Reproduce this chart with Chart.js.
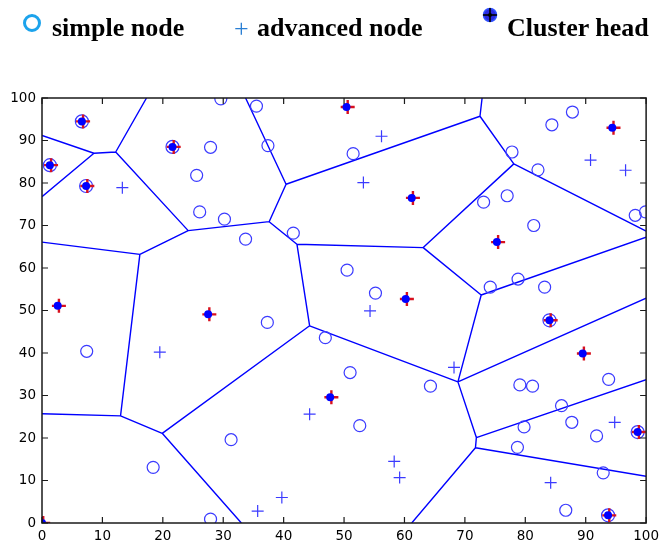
<!DOCTYPE html>
<html>
<head>
<meta charset="utf-8">
<script src="https://cdn.jsdelivr.net/npm/chart.js@4.4.1/dist/chart.umd.min.js"></script>
<style>
  html, body { margin: 0; padding: 0; background: #fff; }
  #wrap { position: relative; width: 664px; height: 546px; }
  #chart { position: absolute; left: 0; top: 0; }
  .lg { position: absolute; font-family: "Liberation Serif", "Times New Roman", serif; font-weight: bold; font-size: 26px; line-height: 26px; color: #000; white-space: nowrap; }
  #ring { position: absolute; left: 23px; top: 14px; width: 12px; height: 12px; border: 3px solid #1ca3ec; border-radius: 50%; }
  #plus { position: absolute; left: 234px; top: 16px; font-family: "Liberation Serif", serif; font-size: 26px; line-height: 26px; color: #2a7fd4; }
</style>
</head>
<body>
<div id="wrap">
  <canvas id="chart" width="664" height="546"></canvas>
  <div id="ring"></div>
  <div class="lg" style="left:52px; top:15px;">simple node</div>
  <div id="plus">+</div>
  <div class="lg" style="left:257px; top:15px;">advanced node</div>
  <svg style="position:absolute; left:482px; top:7px;" width="16" height="16" viewBox="0 0 16 16">
    <circle cx="8" cy="8" r="6.5" fill="#2a2ae0" stroke="#3050ff" stroke-width="1.5"/>
    <line x1="8" y1="1" x2="8" y2="15" stroke="#000" stroke-width="1.6"/>
    <line x1="1" y1="8" x2="15" y2="8" stroke="#000" stroke-width="1.6"/>
    <circle cx="8" cy="8" r="2" fill="#000"/>
  </svg>
  <div class="lg" style="left:507px; top:15px;">Cluster head</div>
</div>
<script>
// ---------- data ----------
const headX = [0, 6.6, 1.3, 7.3, 21.6, 50.4, 61.2, 75.3, 94.4, 2.6, 27.5, 60.2, 84.0, 89.5, 47.7, 98.6, 93.7];
const headY = [0, 94.5, 84.2, 79.3, 88.5, 97.9, 76.5, 66.1, 93.0, 51.1, 49.1, 52.7, 47.7, 39.9, 29.6, 21.4, 1.8];
// cluster heads drawn with an extra ring
const ringX = [6.6, 1.3, 7.3, 21.6, 84.0, 93.7, 98.6];
const ringY = [94.5, 84.2, 79.3, 88.5, 47.7, 1.8, 21.4];

const simpleX = [29.6, 27.9, 25.6, 26.1, 30.2, 35.5, 37.4, 51.5, 33.7, 41.6, 87.8, 84.4, 77.8, 82.1, 73.1, 77.0,
  81.4, 98.2, 99.9, 50.5, 55.2, 37.3, 46.9, 74.2, 78.8, 83.2, 7.4, 51.0, 64.3, 79.1, 81.2, 93.8, 86.0, 87.7,
  79.8, 91.8, 78.7, 92.9, 86.7, 31.3, 52.6, 18.4, 27.9];
const simpleY = [99.8, 88.4, 81.8, 73.2, 71.5, 98.1, 88.8, 86.9, 66.8, 68.2, 96.7, 93.7, 87.3, 83.1, 75.5, 77.0,
  70.0, 72.4, 73.2, 59.5, 54.1, 47.2, 43.6, 55.5, 57.4, 55.5, 40.4, 35.4, 32.2, 32.5, 32.2, 33.8, 27.6, 23.7,
  22.6, 20.5, 17.8, 11.8, 3.0, 19.6, 22.9, 13.1, 0.9];

const advX = [13.3, 56.2, 53.2, 90.8, 96.6, 19.5, 54.3, 68.2, 44.3, 58.3, 59.2, 39.7, 35.7, 94.8, 84.2];
const advY = [78.9, 91.0, 80.1, 85.4, 83.0, 40.2, 49.9, 36.6, 25.6, 14.5, 10.7, 6.0, 2.8, 23.7, 9.5];

// voronoi cell boundaries, one segment per index
const edgeX1 = [17.3, 8.6, 0, 8.6, 12.2, 24.2, 24.2, 0, 16.2, 0, 13.0, 19.9, 19.9, 33.7, 40.4, 37.6, 40.4,
  72.5, 72.5, 78.1, 78.1, 42.2, 42.2, 63.1, 72.7, 72.7, 68.85, 44.3, 68.85, 71.9, 71.9, 71.75, 71.75];
const edgeY1 = [100, 87.0, 91.2, 87.0, 87.3, 68.8, 68.8, 66.1, 63.2, 25.7, 25.2, 21.1, 21.1, 100, 79.7, 70.9, 79.7,
  95.7, 95.7, 84.5, 84.5, 65.6, 65.6, 64.8, 53.65, 53.65, 33.2, 46.4, 33.2, 20.1, 20.1, 17.7, 17.7];
const edgeX2 = [12.2, 12.2, 8.6, 0, 24.2, 37.6, 16.2, 16.2, 13.0, 13.0, 19.9, 33.0, 44.3, 40.4, 37.6, 42.2, 72.5,
  72.85, 78.1, 100, 63.1, 63.1, 44.3, 72.7, 100, 68.85, 100, 68.85, 71.9, 100, 71.75, 100, 61.2];
const edgeY2 = [87.3, 87.3, 87.0, 76.8, 68.8, 70.9, 63.2, 63.2, 25.2, 25.2, 21.1, 0, 46.4, 79.7, 70.9, 65.6, 95.7,
  100, 84.5, 68.7, 64.8, 64.8, 46.4, 53.65, 67.25, 33.2, 52.9, 33.2, 20.1, 33.7, 17.7, 11.0, 0];

const ticks = [0, 10, 20, 30, 40, 50, 60, 70, 80, 90, 100];

// ---------- build datasets ----------
function pts(xs, ys) {
  return xs.map((x, i) => ({ x, y: ys[i] }));
}
const edgePts = [];
edgeX1.forEach((x, i) => {
  edgePts.push({ x, y: edgeY1[i] });
  edgePts.push({ x: edgeX2[i], y: edgeY2[i] });
  edgePts.push({ x: null, y: null });
});

// MATLAB style box with inward ticks
const boxPlugin = {
  id: 'box',
  afterDraw(chart) {
    const { ctx, chartArea: a, scales } = chart;
    ctx.save();
    ctx.strokeStyle = '#1a1a1a';
    ctx.lineWidth = 1.5;
    ctx.strokeRect(a.left, a.top, a.right - a.left, a.bottom - a.top);
    ctx.lineWidth = 1.2;
    ctx.beginPath();
    ticks.forEach(t => {
      const px = scales.x.getPixelForValue(t);
      ctx.moveTo(px, a.bottom); ctx.lineTo(px, a.bottom - 6);
      ctx.moveTo(px, a.top); ctx.lineTo(px, a.top + 6);
      const py = scales.y.getPixelForValue(t);
      ctx.moveTo(a.left, py); ctx.lineTo(a.left + 6, py);
      ctx.moveTo(a.right, py); ctx.lineTo(a.right - 6, py);
    });
    ctx.stroke();
    ctx.restore();
  }
};

const tickFont = { family: 'DejaVu Sans', size: 13.5 };

new Chart(document.getElementById('chart'), {
  type: 'scatter',
  data: {
    datasets: [
      { label: 'head dot', data: pts(headX, headY), pointStyle: 'circle', pointRadius: 4,
        backgroundColor: '#0000ff', borderColor: '#0000ff', borderWidth: 0 },
      { label: 'head cross', data: pts(headX.map(x => x + 0.2), headY), pointStyle: 'cross', pointRadius: 7,
        borderColor: '#d8101e', borderWidth: 2.4 },
      { label: 'head ring', data: pts(ringX, ringY), pointStyle: 'circle', pointRadius: 6.5,
        backgroundColor: 'rgba(0,0,0,0)', borderColor: '#3b3bff', borderWidth: 1.2 },
      { label: 'simple node', data: pts(simpleX, simpleY), pointStyle: 'circle', pointRadius: 6,
        backgroundColor: 'rgba(0,0,0,0)', borderColor: '#3b3bff', borderWidth: 1.2 },
      { label: 'advanced node', data: pts(advX, advY), pointStyle: 'cross', pointRadius: 6,
        borderColor: '#3b3bff', borderWidth: 1.2 },
      { label: 'cells', data: edgePts, showLine: true, spanGaps: false, pointRadius: 0,
        borderColor: '#0000ff', borderWidth: 1.4, tension: 0 }
    ]
  },
  options: {
    responsive: false,
    animation: false,
    events: [],
    layout: { padding: { top: 98, right: 14, bottom: 0, left: 0 } },
    plugins: { legend: { display: false }, tooltip: { enabled: false } },
    scales: {
      x: {
        type: 'linear', min: 0, max: 100,
        afterFit: s => { s.height = 23; },
        afterBuildTicks: s => { s.ticks = ticks.map(v => ({ value: v })); },
        grid: { display: false, drawTicks: false },
        border: { display: false },
        ticks: { color: '#000', font: tickFont, padding: 5, maxRotation: 0 }
      },
      y: {
        type: 'linear', min: 0, max: 100,
        afterFit: s => { s.width = 42; },
        afterBuildTicks: s => { s.ticks = ticks.map(v => ({ value: v })); },
        grid: { display: false, drawTicks: false },
        border: { display: false },
        ticks: { color: '#000', font: tickFont, padding: 6 }
      }
    }
  },
  plugins: [boxPlugin]
});
</script>
</body>
</html>
